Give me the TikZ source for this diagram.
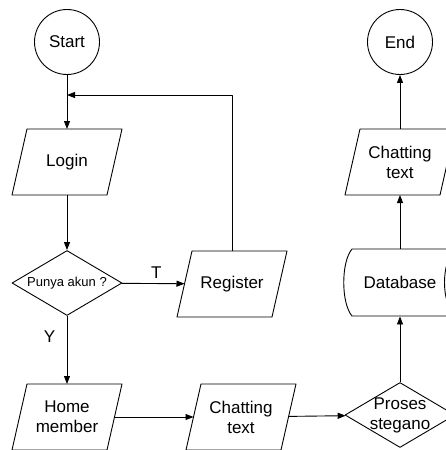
\documentclass[tikz,border=0pt]{standalone}
\usepackage{fontspec}
\setmainfont{Liberation Sans}
\usetikzlibrary{shapes.geometric,arrows.meta}
\begin{document}
\begin{tikzpicture}[x=1pt,y=-1pt,line
				join=round,line width=0.9pt,>={Triangle[length=8pt,width=6pt]},
				font=\fontsize{17}{20}\selectfont,
				terminal/.style={circle,draw,minimum size=65pt,inner sep=0pt},
				io/.style={rectangle,minimum width=110pt,minimum height=66pt,inner sep=0pt,
					outer xsep=-7.5pt,outer ysep=0pt,align=center},
				decision/.style={diamond,draw,aspect=1.7,minimum width=110pt,
					minimum height=65pt,inner sep=0pt},
				conn/.style={->}]
				\useasboundingbox (0,0) rectangle (446,450);
				\def\slant{7.5pt}
				\def\para#1{\draw ([xshift=\slant]#1.north west) -- ([xshift=\slant]#1.north east)
					-- ([xshift=-\slant]#1.south east) -- ([xshift=-\slant]#1.south west) -- cycle;}
				% nodes
				\node[terminal] (start) at (67,42) {Start};
				\node[io] (login) at (67,162) {Login};
				\para{login}
				\node[decision,label={[font=\fontsize{13}{15}\selectfont]center:Punya akun ?}] (punya) at (67,283) {};
				\node[io] (register) at (232,284) {Register};
				\para{register}
				\node[io] (home) at (67,417) {Home\\member};
				\para{home}
				\node[io] (chat1) at (241,417) {Chatting\\text};
				\para{chat1}
				\node[decision,label={[align=center]center:Proses\\stegano}] (proses) at (400,415) {};
				% database (stored data)
				\draw (352,249) -- (455,249)
				.. controls (441,262) and (441,303) .. (455,316)
				-- (352,316) .. controls (341,303) and (341,262) .. (352,249);
				\node[minimum width=103pt,minimum height=67pt,inner sep=0pt] (db) at (400,282.5) {Database};
				\node[io] (chat2) at (400,162) {Chatting\\text};
				\para{chat2}
				\node[terminal] (end) at (400,42) {End};
				\coordinate (join) at (67,95);
				% connectors
				\draw[conn] (start) -- (login);
				\draw[conn] (login) -- (punya);
				\draw[conn] (punya) -- (register) node[pos=0.55,above=1pt]{T};
				\draw[conn] (register.north) |- (join);
				\draw[conn] (punya) -- (home) node[pos=0.3,left=8pt]{Y};
				\draw[conn] (home) -- (chat1);
				\draw[conn] (chat1) -- (proses);
				\draw[conn] (proses) -- (db);
				\draw[conn] (db) -- (chat2);
				\draw[conn] (chat2) -- (end);
			\end{tikzpicture}
\end{document}
